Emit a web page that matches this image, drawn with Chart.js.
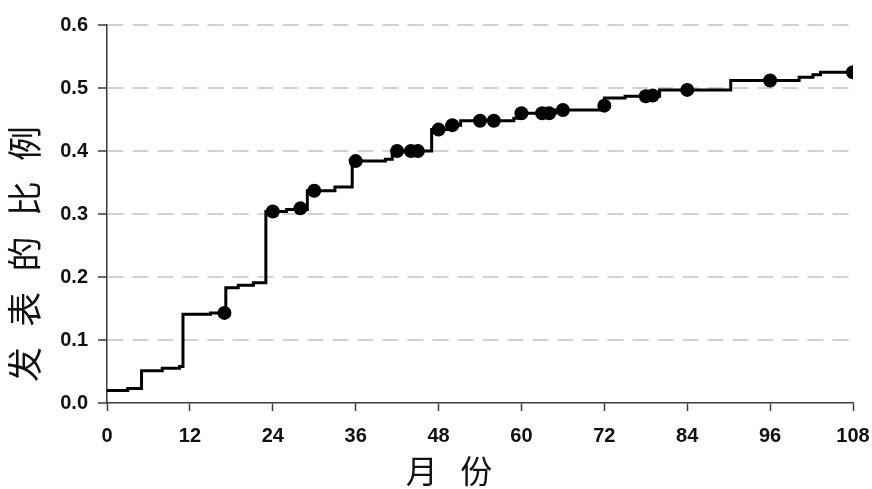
<!DOCTYPE html>
<html>
<head>
<meta charset="utf-8">
<script src="https://cdn.jsdelivr.net/npm/chart.js@4/dist/chart.umd.min.js"></script>
<style>
  html, body { margin: 0; padding: 0; background: #fff; }
  #wrap { width: 872px; height: 489px; position: relative; }
</style>
</head>
<body>
<div id="wrap"><canvas id="c" width="872" height="489"></canvas></div>
<script>
// Cumulative proportion published: months where the curve steps, and the level after each step
const stepMonths = [0, 3, 5, 8, 10.5, 11, 15, 17.2, 19, 21.2, 23, 26, 29, 33, 35.5, 40.3, 41.3, 47, 49.2, 51.2, 58.9, 59.6, 64.9, 72, 75, 80, 90.3, 100.2, 102.2, 103.3, 108];
const stepValues = [0.020, 0.023, 0.051, 0.055, 0.058, 0.141, 0.143, 0.183, 0.187, 0.191, 0.304, 0.307, 0.337, 0.343, 0.384, 0.387, 0.400, 0.434, 0.441, 0.448, 0.452, 0.460, 0.465, 0.484, 0.487, 0.497, 0.512, 0.517, 0.521, 0.525, 0.525];

// Censored observations (filled dots on the curve)
const censorMonths = [17, 24, 28, 30, 36, 42, 44, 45, 48, 50, 54, 56, 60, 63, 64, 66, 72, 78, 79, 84, 96, 108];
const censorValues = [0.143, 0.304, 0.309, 0.337, 0.384, 0.400, 0.400, 0.400, 0.434, 0.441, 0.448, 0.448, 0.460, 0.460, 0.460, 0.465, 0.472, 0.487, 0.488, 0.497, 0.512, 0.525];

// Axis settings and titles
const xTicks = [0, 12, 24, 36, 48, 60, 72, 84, 96, 108];
const yTicks = [0.0, 0.1, 0.2, 0.3, 0.4, 0.5, 0.6];
const xTitle = ['月', '份'];
const yTitle = ['发', '表', '的', '比', '例'];

const stepPoints = stepMonths.map((m, i) => ({ x: m, y: stepValues[i] }));
const censorPoints = censorMonths.map((m, i) => ({ x: m, y: censorValues[i] }));

const axisColor = '#3a3a3a';
const gridColor = '#d3d3c7';

// Draws the spaced CJK axis titles
const titlePlugin = {
  id: 'axisTitles',
  afterDraw(chart) {
    const ctx = chart.ctx;
    ctx.save();
    ctx.fillStyle = '#111';
    ctx.textAlign = 'center';
    ctx.textBaseline = 'middle';

    // horizontal title under the x axis
    ctx.font = '32px "Noto Sans CJK SC"';
    const xc = 449, xStep = 54.5;
    xTitle.forEach((ch, i) => {
      ctx.fillText(ch, xc + (i - (xTitle.length - 1) / 2) * xStep, 471);
    });

    // vertical title left of the y axis, reading bottom to top
    ctx.font = '35px "Noto Sans CJK SC"';
    ctx.translate(25, 254);
    ctx.rotate(-Math.PI / 2);
    const yStep = 55.3;
    yTitle.forEach((ch, i) => {
      ctx.fillText(ch, (i - (yTitle.length - 1) / 2) * yStep, 0);
    });
    ctx.restore();
  }
};

new Chart(document.getElementById('c'), {
  type: 'line',
  data: {
    datasets: [
      {
        data: stepPoints,
        stepped: 'before',
        borderColor: '#000',
        borderWidth: 3,
        pointRadius: 0,
        fill: false
      },
      {
        data: censorPoints,
        showLine: false,
        pointRadius: 7,
        pointBackgroundColor: '#000',
        pointBorderColor: '#000',
        pointBorderWidth: 0
      }
    ]
  },
  options: {
    responsive: false,
    animation: false,
    devicePixelRatio: 1,
    layout: { padding: { left: 0, right: 19, top: 25, bottom: 0 } },
    plugins: { legend: { display: false }, tooltip: { enabled: false } },
    scales: {
      x: {
        type: 'linear',
        min: 0,
        max: 108,
        afterBuildTicks(scale) { scale.ticks = xTicks.map(v => ({ value: v })); },
        afterFit(scale) {
          scale.height = 86;
          scale.paddingLeft = 0;
          scale.paddingRight = 0;
        },
        ticks: {
          color: '#111',
          font: { family: '"Liberation Sans", Arial, sans-serif', size: 20, weight: 'bold' },
          padding: 13,
          maxRotation: 0,
          autoSkip: false
        },
        grid: {
          drawOnChartArea: false,
          drawTicks: true,
          tickLength: 8,
          tickColor: axisColor,
          tickWidth: 1.5
        },
        border: { display: true, color: axisColor, width: 1.5 }
      },
      y: {
        type: 'linear',
        min: 0,
        max: 0.6,
        afterBuildTicks(scale) { scale.ticks = yTicks.map(v => ({ value: v })); },
        afterFit(scale) {
          scale.width = 107;
          scale.paddingTop = 0;
          scale.paddingBottom = 0;
        },
        ticks: {
          color: '#111',
          font: { family: '"Liberation Sans", Arial, sans-serif', size: 20, weight: 'bold' },
          padding: 10,
          callback: v => Number(v).toFixed(1)
        },
        grid: {
          color: c => (c.tick && c.tick.value === 0) ? 'rgba(0,0,0,0)' : gridColor,
          lineWidth: 2,
          drawTicks: true,
          tickLength: 9,
          tickColor: axisColor,
          tickWidth: 1.5
        },
        border: { display: true, color: axisColor, width: 1.5, dash: [16, 9] }
      }
    }
  },
  plugins: [titlePlugin]
});
</script>
</body>
</html>
